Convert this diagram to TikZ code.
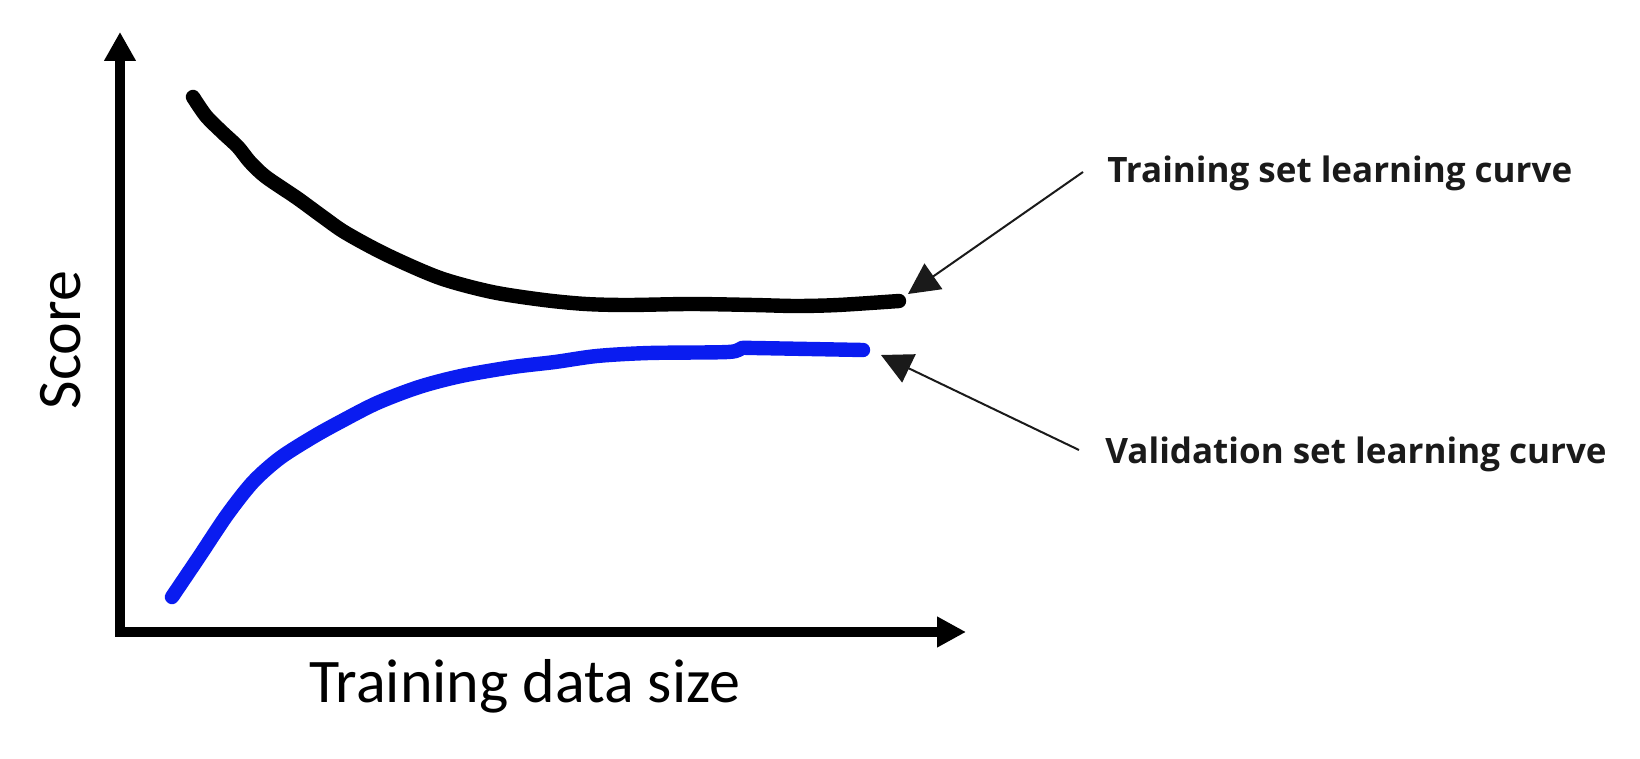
\documentclass[tikz,border=0pt]{standalone}
\usepackage{fontspec}
\newfontfamily\calib{Carlito}
\newfontfamily\osans{Open Sans}
\usetikzlibrary{arrows.meta}
\definecolor{curveblue}{RGB}{10,28,240}
\definecolor{arrowgray}{RGB}{26,26,26}
\tikzset{
  axisline/.style={line width=4.75pt, line join=miter},
  curveline/.style={line width=7.2pt, line cap=round, line join=round},
  pointer/.style={line width=1pt, draw=arrowgray, -{Triangle[length=15.5pt,width=15.5pt]}, fill=arrowgray},
  axislabel/.style={font=\calib\fontsize{31}{36}\selectfont, inner sep=0pt},
  curvelabel/.style={font=\osans\bfseries\fontsize{17.5}{21}\selectfont, text=arrowgray, inner sep=0pt, anchor=base west}
}
\begin{document}
\begin{tikzpicture}[x=0.5pt,y=-0.5pt]
\useasboundingbox (0,0) rectangle (1640,759);
% axes
\coordinate (ytip) at (120,32);
\coordinate (origin) at (120,632);
\coordinate (xtip) at (966,632);
\draw[axisline, {Triangle[length=14.5pt,width=15pt]}-{Triangle[length=14.5pt,width=14.5pt]}] (ytip) -- (origin) -- (xtip);
% training curve
\draw[curveline, black] plot[smooth, tension=0.5] coordinates {(193,97) (206,116) (222,132) (238,147) (250,162) (266,177) (297,198) (323,217) (346,233) (387,255) (440,278) (492,292) (544,300) (586,304) (628,305) (691,304) (754,305) (796,306) (838,305) (899,301)};
% validation curve
\draw[curveline, curveblue] plot[smooth, tension=0.5] coordinates {(172,597) (199,557) (227,515) (253,482) (280,458) (313,437) (340,422) (377,403) (419,387) (461,376) (513,367) (555,362) (597,356) (649,353) (728,352) (742,348) (754,348) (863,350)};
% labels
\node[axislabel, rotate=90, anchor=base] (score) at (80,340) {Score};
\node[axislabel, anchor=base] (xlab) at (525,702) {Training data size};
\node[curvelabel] (tlab) at (1107,183) {Training set learning curve};
\node[curvelabel] (vlab) at (1105,464) {Validation set learning curve};
% pointers
\coordinate (tstart) at (1083,172);
\coordinate (ttip) at (908,294);
\coordinate (vstart) at (1079,450);
\coordinate (vtip) at (881,355);
\draw[pointer] (tstart) -- (ttip);
\draw[pointer] (vstart) -- (vtip);
\end{tikzpicture}
\end{document}
